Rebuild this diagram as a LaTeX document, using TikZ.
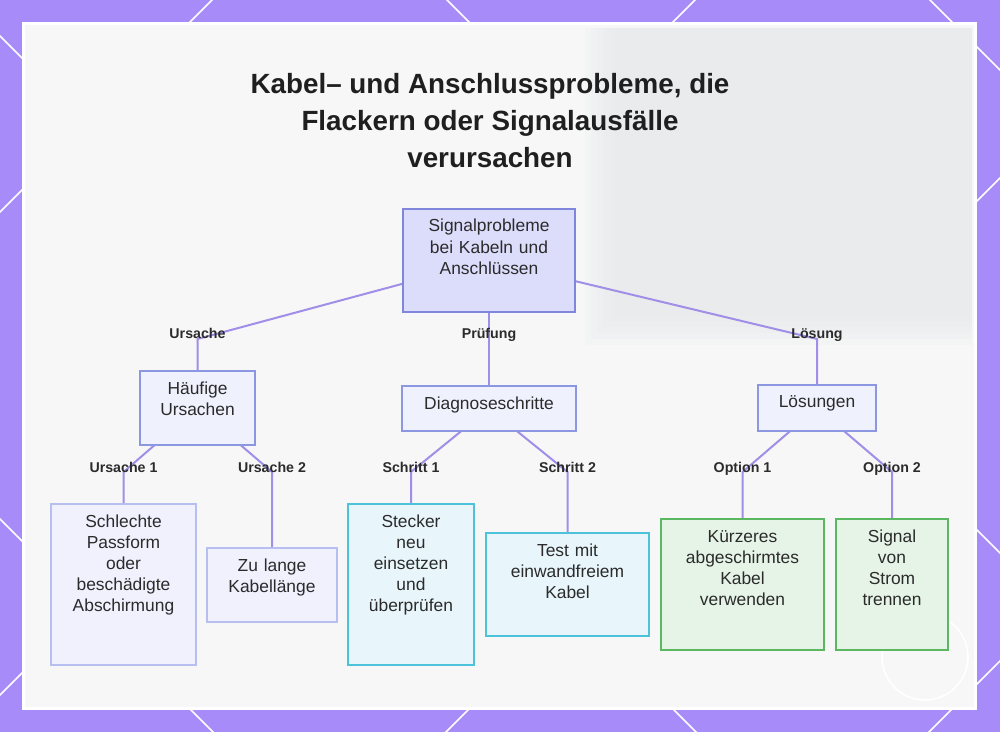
\documentclass[tikz,border=0pt]{standalone}
\usepackage{fontspec}
\setmainfont{Liberation Sans}
\usepackage{tikz}
\usetikzlibrary{positioning}
\definecolor{framepurple}{HTML}{A78BF8}
\definecolor{panelgray}{HTML}{F7F7F7}
\definecolor{shadegray}{HTML}{E8EAEB}
\definecolor{linkcol}{HTML}{A08EE8}
\definecolor{rootfill}{HTML}{DCDCFB}
\definecolor{rootdraw}{HTML}{7F86DC}
\definecolor{midfill}{HTML}{EFF1FD}
\definecolor{middraw}{HTML}{8C97E2}
\definecolor{causefill}{HTML}{F0F1FD}
\definecolor{causedraw}{HTML}{B7BEF0}
\definecolor{stepfill}{HTML}{E8F6FC}
\definecolor{stepdraw}{HTML}{4DC3DB}
\definecolor{fixfill}{HTML}{E6F4E7}
\definecolor{fixdraw}{HTML}{5CB860}
\definecolor{inkcol}{HTML}{2B2B2B}
\definecolor{titlecol}{HTML}{1F1F1F}
\pgfdeclarelayer{frame}
\pgfdeclarelayer{links}
\pgfsetlayers{frame,links,main}

\begin{document}
\begin{tikzpicture}[x=0.5pt, y=-0.5pt,
	box/.style={draw, line width=1pt, anchor=north, align=center, inner xsep=3pt, inner ysep=4.5pt,
		text height=7pt, font=\fontsize{8.7pt}{10.6pt}\selectfont, text=inkcol},
	rootbox/.style={box, fill=rootfill, draw=rootdraw},
	midbox/.style={box, fill=midfill, draw=middraw},
	causebox/.style={box, fill=causefill, draw=causedraw},
	stepbox/.style={box, fill=stepfill, draw=stepdraw},
	fixbox/.style={box, fill=fixfill, draw=fixdraw},
	link/.style={draw=linkcol, line width=1pt},
	tag/.style={anchor=base, inner sep=0pt, text=inkcol, font=\fontsize{7.1pt}{8.5pt}\selectfont\bfseries}]
	\useasboundingbox (0,0) rectangle (1000,732);

	% frame and panel
	\begin{pgfonlayer}{frame}
		\fill[framepurple] (0,0) rectangle (1000,732);
		\begin{scope}
			\clip (0,0) rectangle (1000,732);
			\foreach \c in {212,695,1178,1661}
			\draw[white, line width=0.8pt] (\c+100,-100) -- (\c-900,900);
			\foreach \d in {-519,-36,447,930}
			\draw[white, line width=0.8pt] (\d-100,-100) -- (\d+900,900);
		\end{scope}
		\fill[white] (22,22) rectangle (977,710);
		\fill[panelgray] (25,25) rectangle (974,707);
		\foreach \i in {0,...,5}
		\fill[shadegray, opacity=0.22] (585+\i*6,28) rectangle (972,345-\i*6);
		\draw[white, line width=0.8pt] (925,657) circle [radius=43];
	\end{pgfonlayer}

	\node[inner sep=0pt, anchor=north, align=center, text=titlecol,
		font=\fontsize{13.9pt}{18.5pt}\selectfont\bfseries] (title) at (490,73)
		{Kabel– und Anschlussprobleme, die\\Flackern oder Signalausfälle\\verursachen};

	\node[rootbox, text width=80pt, text depth=35.5pt] (root) at (489,208) {Signalprobleme\\bei Kabeln und\\Anschlüssen};

	\node[midbox, text width=51.5pt, text depth=21pt] (haeufig) at (197.5,370) {Häufige\\Ursachen};
	\node[midbox, text width=81pt, text depth=6.5pt] (diag) at (489,385) {Diagnoseschritte};
	\node[midbox, text width=53pt, text depth=7pt] (loes) at (817,384) {Lösungen};

	\node[causebox, text width=66.5pt, text depth=64.5pt] (schlecht) at (123.5,503) {Schlechte\\Passform\\oder\\beschädigte\\Abschirmung};
	\node[causebox, text width=59pt, text depth=21pt] (lang) at (272,547) {Zu lange\\Kabellänge};
	\node[stepbox, text width=57pt, text depth=64.5pt] (stecker) at (411,503) {Stecker\\neu\\einsetzen\\und\\überprüfen};
	\node[stepbox, text width=75.5pt, text depth=35.5pt] (test) at (567.5,532) {Test mit\\einwandfreiem\\Kabel};
	\node[fixbox, text width=75.5pt, text depth=49.5pt] (kurz) at (742.5,518) {Kürzeres\\abgeschirmtes\\Kabel\\verwenden};
	\node[fixbox, text width=50pt, text depth=49.5pt] (trenn) at (892,518) {Signal\\von\\Strom\\trennen};

	\node[tag] (tUrs) at (197.5,339) {Ursache};
	\node[tag] (tPruef) at (489,339) {Prüfung};
	\node[tag] (tLoes) at (817,339) {Lösung};
	\node[tag] (tUrs1) at (123.5,472) {Ursache 1};
	\node[tag] (tUrs2) at (272,472) {Ursache 2};
	\node[tag] (tSchr1) at (411,472) {Schritt 1};
	\node[tag] (tSchr2) at (567.5,472) {Schritt 2};
	\node[tag] (tOpt1) at (742.5,472) {Option 1};
	\node[tag] (tOpt2) at (892,472) {Option 2};

	\begin{pgfonlayer}{links}
		\draw[link] (root.center) -- (haeufig.north |- tUrs.base) -- (haeufig.north);
		\draw[link] (root.center) -- (diag.north);
		\draw[link] (root.center) -- (loes.north |- tLoes.base) -- (loes.north);
		\draw[link] (haeufig.center) -- (schlecht.north |- tUrs1.base) -- (schlecht.north);
		\draw[link] (haeufig.center) -- (lang.north |- tUrs2.base) -- (lang.north);
		\draw[link] (diag.center) -- (stecker.north |- tSchr1.base) -- (stecker.north);
		\draw[link] (diag.center) -- (test.north |- tSchr2.base) -- (test.north);
		\draw[link] (loes.center) -- (kurz.north |- tOpt1.base) -- (kurz.north);
		\draw[link] (loes.center) -- (trenn.north |- tOpt2.base) -- (trenn.north);
	\end{pgfonlayer}
\end{tikzpicture}
\end{document}
